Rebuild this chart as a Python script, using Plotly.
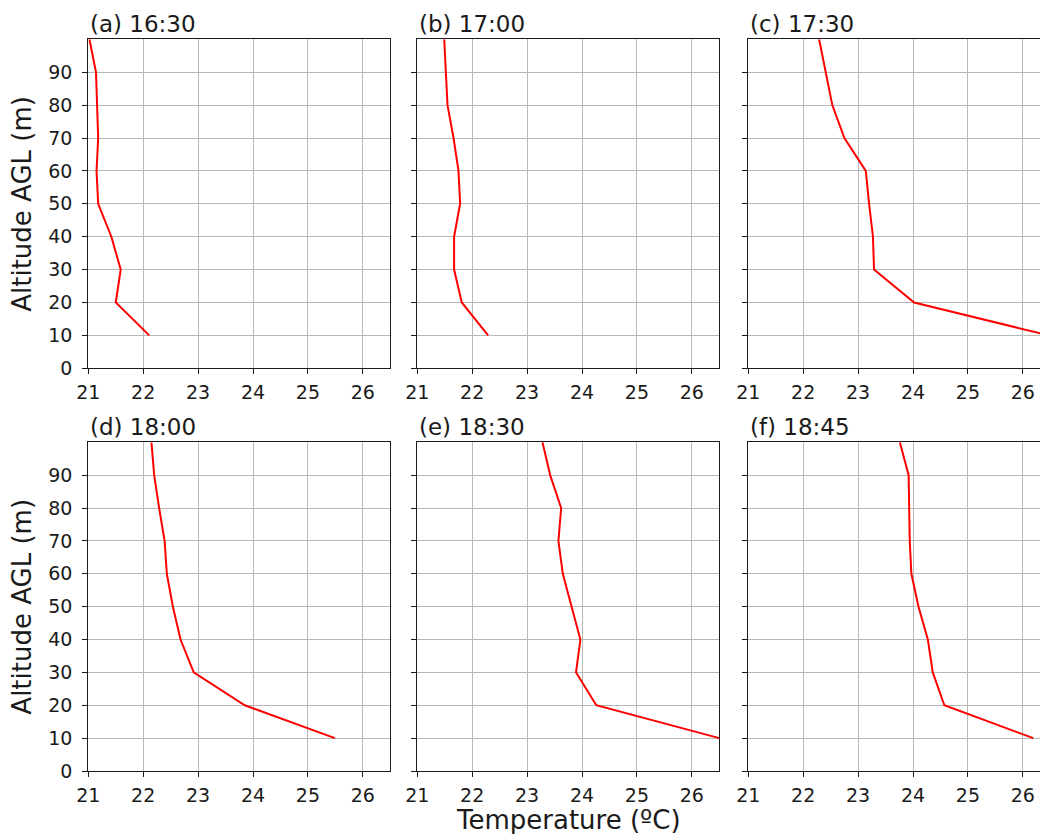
import plotly.graph_objects as go

# Altitude levels (m AGL) sampled by each profile
altitude = [100, 90, 80, 70, 60, 50, 40, 30, 20, 10]

# Temperature profiles (ºC) at each sounding time
temp_1630 = [21.02, 21.14, 21.16, 21.18, 21.15, 21.18, 21.42, 21.59, 21.50, 22.11]
temp_1700 = [21.49, 21.52, 21.55, 21.66, 21.75, 21.78, 21.67, 21.67, 21.81, 22.29]
temp_1730 = [22.29, 22.41, 22.53, 22.75, 23.14, 23.20, 23.27, 23.29, 24.02, 26.47]
temp_1800 = [22.15, 22.20, 22.29, 22.39, 22.43, 22.54, 22.68, 22.92, 23.85, 25.49]
temp_1830 = [23.28, 23.42, 23.62, 23.57, 23.65, 23.81, 23.97, 23.89, 24.26, 26.50]
temp_1845 = [23.76, 23.92, 23.93, 23.94, 23.97, 24.10, 24.27, 24.36, 24.57, 26.19]

panel_titles = ["(a) 16:30", "(b) 17:00", "(c) 17:30",
                "(d) 18:00", "(e) 18:30", "(f) 18:45"]
profiles = [temp_1630, temp_1700, temp_1730, temp_1800, temp_1830, temp_1845]

x_ticks = [21, 22, 23, 24, 25, 26]
y_ticks = [0, 10, 20, 30, 40, 50, 60, 70, 80, 90]

W, H = 1040, 834
FONT = "DejaVu Sans"

# Panel layout in pixels: (left, right) per column, (top, bottom) per row
col_px = [(88.3, 390.3), (417.3, 719.3), (748.3, 1040.0)]
row_px = [(39.3, 368.3), (442.3, 771.0)]
x_scale = (col_px[0][1] - col_px[0][0]) / 5.5  # pixels per ºC

fig = go.Figure()
annotations = []

for i, (title, temps) in enumerate(zip(panel_titles, profiles)):
    r, c = divmod(i, 3)
    n = i + 1
    xa = "x" if n == 1 else f"x{n}"
    ya = "y" if n == 1 else f"y{n}"
    left, right = col_px[c]
    top, bottom = row_px[r]
    x_max = 21 + (right - left) / x_scale

    fig.add_trace(go.Scatter(
        x=temps, y=altitude, mode="lines",
        line=dict(color="#ff0000", width=2),
        xaxis=xa, yaxis=ya, showlegend=False,
    ))

    axis_common = dict(
        showgrid=True, gridcolor="#b8b8b8", gridwidth=1,
        showline=True, linecolor="#1a1a1a", linewidth=1.2,
        ticks="outside", ticklen=5, tickwidth=1, tickcolor="#1a1a1a",
        tickfont=dict(family=FONT, size=19, color="#1a1a1a"),
        zeroline=False, fixedrange=True, automargin=False,
    )
    fig.layout[f"xaxis{'' if n == 1 else n}"] = dict(
        axis_common,
        domain=[left / W, right / W],
        range=[21, x_max], tickvals=x_ticks,
        anchor=ya, mirror=True,
        ticklabelstandoff=2,
    )
    fig.layout[f"yaxis{'' if n == 1 else n}"] = dict(
        axis_common,
        domain=[1 - bottom / H, 1 - top / H],
        range=[0, 100], tickvals=y_ticks,
        anchor=xa, mirror=(c != 2),
        showticklabels=(c == 0),
        ticklabelstandoff=6,
    )

    annotations.append(dict(
        text=title, xref=f"{xa} domain", yref=f"{ya} domain",
        x=0, y=1, xanchor="left", yanchor="bottom", showarrow=False,
        font=dict(family=FONT, size=23, color="#1a1a1a"),
    ))

# Shared axis titles
for top, bottom in row_px:
    annotations.append(dict(
        text="Altitude AGL (m)", xref="paper", yref="paper",
        x=22 / W, y=1 - (top + bottom) / 2 / H,
        xanchor="center", yanchor="middle", textangle=-90, showarrow=False,
        font=dict(family=FONT, size=26, color="#1a1a1a"),
    ))
annotations.append(dict(
    text="Temperature (ºC)", xref="paper", yref="paper",
    x=(col_px[1][0] + col_px[1][1]) / 2 / W, y=1 - 820 / H,
    xanchor="center", yanchor="middle", showarrow=False,
    font=dict(family=FONT, size=26, color="#1a1a1a"),
))

fig.update_layout(
    width=W, height=H,
    margin=dict(l=0, r=0, t=0, b=0, autoexpand=False),
    paper_bgcolor="white", plot_bgcolor="white",
    annotations=annotations,
)

fig.write_html("out.html")
